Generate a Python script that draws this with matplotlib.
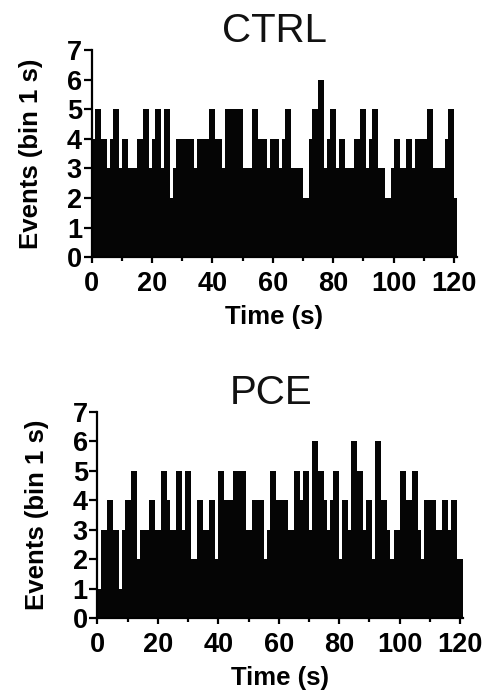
import numpy as np
import matplotlib
matplotlib.use("Agg")
import matplotlib.pyplot as plt
from matplotlib.ticker import MultipleLocator

# events per 1 s bin (bins 0..120)
ctrl_counts = [4, 5, 5, 4, 4, 3, 4, 5, 5, 3,
               4, 4, 3, 3, 3, 4, 4, 5, 5, 3,
               4, 5, 5, 3, 5, 5, 2, 3, 4, 4,
               4, 4, 4, 4, 3, 4, 4, 4, 4, 5,
               5, 4, 4, 3, 5, 5, 5, 5, 5, 5,
               3, 3, 3, 5, 5, 4, 4, 4, 3, 4,
               4, 4, 3, 4, 5, 5, 3, 3, 3, 3,
               2, 2, 4, 5, 5, 6, 6, 3, 4, 5,
               5, 3, 4, 4, 3, 3, 3, 4, 4, 5,
               5, 3, 4, 5, 5, 3, 3, 2, 2, 3,
               4, 4, 3, 3, 4, 4, 3, 4, 4, 4,
               4, 5, 5, 3, 3, 3, 3, 4, 5, 5,
               2]
pce_counts = [1, 3, 3, 4, 4, 3, 3, 1, 3, 4,
              4, 5, 5, 2, 3, 3, 3, 4, 4, 3,
              3, 5, 5, 4, 3, 3, 5, 5, 3, 5,
              5, 2, 2, 4, 4, 3, 3, 4, 4, 2,
              5, 5, 4, 4, 4, 5, 5, 5, 5, 3,
              3, 4, 4, 4, 4, 2, 3, 5, 5, 4,
              4, 4, 4, 3, 3, 5, 5, 4, 5, 5,
              3, 6, 6, 5, 5, 4, 3, 4, 5, 5,
              2, 4, 4, 3, 6, 6, 5, 5, 3, 4,
              4, 2, 6, 6, 4, 4, 3, 2, 3, 3,
              5, 5, 4, 4, 5, 5, 3, 2, 4, 4,
              4, 4, 3, 3, 4, 4, 3, 4, 4, 2,
              2]
panel_titles = ["CTRL", "PCE"]
x_label = "Time (s)"
y_label = "Events (bin 1 s)"

plt.rcParams['font.family'] = ['Liberation Sans', 'DejaVu Sans']

fig = plt.figure(figsize=(4.87, 6.95), dpi=100)
ax_top = fig.add_axes([0.1883, 0.630, 0.750, 0.298])
ax_bot = fig.add_axes([0.2002, 0.1108, 0.7505, 0.2964])


def draw_panel(ax, counts, title, title_x, title_pad):
    bins = np.arange(len(counts))
    ax.bar(bins, counts, width=1.0, align='edge', color='#050505', linewidth=0)
    ax.set_xlim(0, len(counts))
    ax.set_ylim(0, 7)
    ax.spines['top'].set_visible(False)
    ax.spines['right'].set_visible(False)
    for s in ['left', 'bottom']:
        ax.spines[s].set_linewidth(1.6)
    ax.xaxis.set_major_locator(MultipleLocator(20))
    ax.xaxis.set_minor_locator(MultipleLocator(10))
    ax.yaxis.set_major_locator(MultipleLocator(1))
    ax.tick_params(axis='y', which='major', length=6, width=1.6, labelsize=19.5, pad=1)
    ax.tick_params(axis='x', which='major', length=4, width=1.6, labelsize=19.5, pad=6)
    ax.tick_params(axis='x', which='minor', length=3, width=1.6)
    for lbl in ax.get_xticklabels() + ax.get_yticklabels():
        lbl.set_fontweight('bold')
    ax.set_xlabel(x_label, fontsize=18.5, fontweight='bold', labelpad=6)
    ax.set_ylabel(y_label, fontsize=18.5, fontweight='bold', labelpad=17)
    ax.set_title(title, fontsize=29, color='#111111', pad=title_pad, x=title_x)


draw_panel(ax_top, ctrl_counts, panel_titles[0], 0.5, 3.6)
draw_panel(ax_bot, pce_counts, panel_titles[1], 0.476, 4.3)

fig.savefig("out.png", dpi=100)
